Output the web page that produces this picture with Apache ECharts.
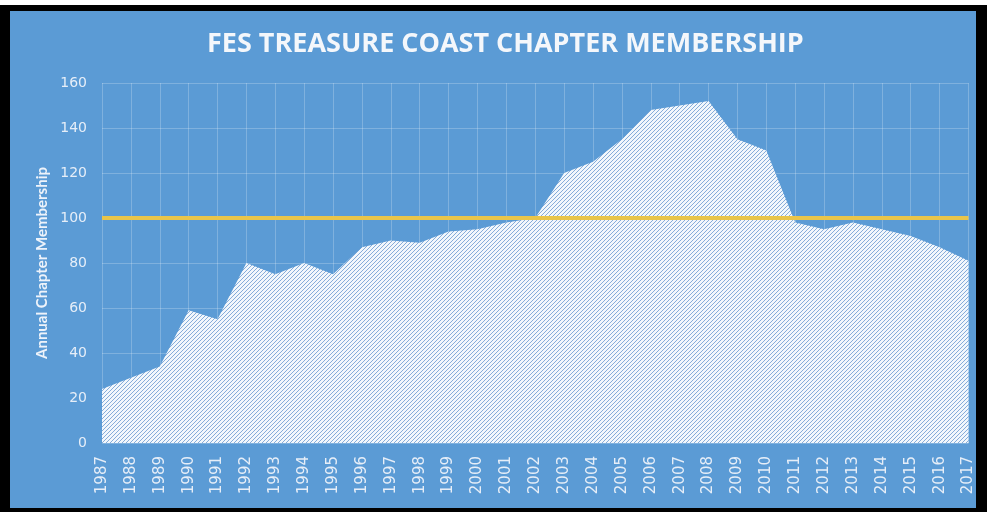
<!DOCTYPE html>
<html>
<head>
<meta charset="utf-8">
<script src="https://cdn.jsdelivr.net/npm/echarts@6/dist/echarts.min.js"></script>
<style>
  html, body { margin: 0; padding: 0; width: 987px; height: 512px; overflow: hidden; background: #fff; }
  #frame { position: absolute; left: 0; top: 5px; width: 987px; height: 507px; background: #000; }
  #chart { position: absolute; left: 10px; top: 11px; width: 966px; height: 497px; }
</style>
</head>
<body>
<div id="frame"></div>
<div id="chart"></div>
<script>
const years = ['1987','1988','1989','1990','1991','1992','1993','1994','1995','1996',
  '1997','1998','1999','2000','2001','2002','2003','2004','2005','2006',
  '2007','2008','2009','2010','2011','2012','2013','2014','2015','2016','2017']
const membership = [24, 29, 34, 59, 55, 80, 75, 80, 75, 87,
  90, 89, 94, 95, 98, 100, 120, 125, 135, 148,
  150, 152, 135, 130, 98, 95, 98, 95, 92, 87, 81]
const targetLevel = 100

// hatched fill like the office "dotted diagonal" pattern
function makeHatch() {
  const c = document.createElement('canvas')
  c.width = 4
  c.height = 4
  const ctx = c.getContext('2d')
  ctx.fillStyle = '#f2f7fc'
  ctx.fillRect(0, 0, 4, 4)
  ctx.fillStyle = '#86acd9'
  for (let x = 0; x < 4; x++) {
    for (let y = 0; y < 4; y++) {
      if ((x + y) % 4 === 3) ctx.fillRect(x, y, 1, 1)
    }
  }
  return c
}

const myChart = echarts.init(document.getElementById('chart'))

myChart.setOption({
  backgroundColor: '#5b9bd5',
  animation: false,
  title: {
    text: 'FES TREASURE COAST CHAPTER MEMBERSHIP',
    left: 192,
    top: 15,
    textStyle: {
      color: '#f4f7fb',
      fontFamily: 'Open Sans',
      fontWeight: 'bold',
      fontSize: 27
    }
  },
  grid: { left: 92, right: 3, top: 72, bottom: 65 },
  xAxis: {
    type: 'category',
    data: years,
    boundaryGap: false,
    axisLine: { show: false },
    axisTick: { show: false },
    axisLabel: {
      rotate: 90,
      color: '#e6eef8',
      fontFamily: 'DejaVu Sans',
      fontSize: 15,
      margin: 13
    },
    splitLine: { show: true, lineStyle: { color: 'rgba(255,255,255,0.22)', width: 1 } }
  },
  yAxis: {
    type: 'value',
    min: 0,
    max: 160,
    interval: 20,
    name: 'Annual Chapter Membership',
    nameLocation: 'middle',
    nameGap: 46,
    nameTextStyle: {
      color: '#eef3fa',
      fontFamily: 'Lato',
      fontWeight: 'bold',
      fontSize: 15
    },
    axisLine: { show: false },
    axisTick: { show: false },
    axisLabel: {
      color: '#e6eef8',
      fontFamily: 'DejaVu Sans',
      fontSize: 14,
      margin: 15
    },
    splitLine: { lineStyle: { color: 'rgba(255,255,255,0.22)', width: 1 } }
  },
  series: [{
    type: 'line',
    data: membership,
    symbol: 'none',
    lineStyle: { width: 0 },
    areaStyle: {
      color: { image: makeHatch(), repeat: 'repeat' },
      opacity: 1
    },
    markLine: {
      silent: true,
      symbol: 'none',
      label: { show: false },
      lineStyle: { color: '#e9c54a', width: 4, type: 'solid' },
      data: [{ yAxis: targetLevel }]
    }
  }]
})
</script>
</body>
</html>
